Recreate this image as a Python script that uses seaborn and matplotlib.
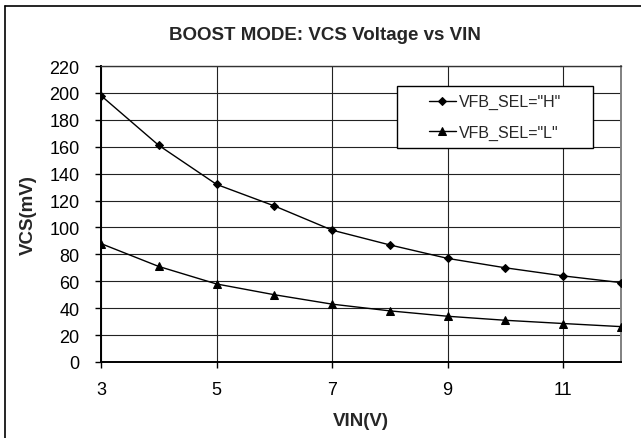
import numpy as np
import pandas as pd
import matplotlib
matplotlib.use("Agg")
import matplotlib.pyplot as plt
from matplotlib.lines import Line2D
from matplotlib.patches import Rectangle
import seaborn as sns

# values
vin = [3, 4, 5, 6, 7, 8, 9, 10, 11, 12]
vcs_h = [198, 161, 132, 116, 98, 87, 77, 70, 64, 59]
vcs_l = [88, 71, 58, 50, 43, 38, 34, 31, 28.6, 26.3]
label_h = 'VFB_SEL="H"'
label_l = 'VFB_SEL="L"'
x_ticks = [3, 5, 7, 9, 11]
y_ticks = list(range(0, 221, 20))

sns.set_style("white")
plt.rcParams["font.family"] = ["Liberation Sans", "DejaVu Sans"]

fig = plt.figure(figsize=(6.41, 4.39), dpi=100)
ax = fig.add_axes([101 / 641, 1 - 363 / 439, 520 / 641, 296 / 439])

sns.lineplot(x=vin, y=vcs_h, ax=ax, color="black", lw=1.0, marker="D",
             markersize=4.3, markeredgecolor="black", label=label_h, zorder=3)
sns.lineplot(x=vin, y=vcs_l, ax=ax, color="black", lw=1.0, marker="^",
             markersize=5.8, markeredgecolor="black", label=label_l, zorder=3)

ax.set_xlim(3, 12)
ax.set_ylim(0, 220)
ax.set_xticks(x_ticks)
ax.set_yticks(y_ticks)
ax.grid(True, color="#222222", lw=0.8)
ax.set_axisbelow(True)

for side in ["left", "bottom"]:
    ax.spines[side].set_color("black")
    ax.spines[side].set_linewidth(1.4)
ax.spines["top"].set_color("#333333")
ax.spines["top"].set_linewidth(1.0)
ax.spines["right"].set_color("#808080")
ax.spines["right"].set_linewidth(1.4)

ax.tick_params(axis="both", direction="out", length=4.5, width=1.0,
               color="black", labelsize=13, labelcolor="black")
ax.tick_params(axis="x", pad=9.5, bottom=True)
ax.tick_params(axis="y", pad=11, left=True)

ax.set_xlabel("VIN(V)", fontsize=13.5, fontweight="bold", labelpad=10)
ax.set_ylabel("VCS(mV)", fontsize=13.5, fontweight="bold", labelpad=9)

# legend box drawn as a plain rectangle, entries centered in it
box_x0, box_y0 = (397 - 101) / 520, (363 - 149) / 296
box_w, box_h = (593 - 397) / 520, (149 - 87) / 296
ax.add_patch(Rectangle((box_x0, box_y0), box_w, box_h, transform=ax.transAxes,
                       facecolor="white", edgecolor="black", lw=1.0, zorder=4.5))
ax.legend(loc="center", bbox_to_anchor=(box_x0 + box_w / 2, box_y0 + box_h / 2),
          frameon=False, fontsize=11.5, handlelength=1.7, handletextpad=0.2,
          labelspacing=0.95, borderaxespad=0)

fig.suptitle("BOOST MODE: VCS Voltage vs VIN", x=325 / 641, y=1 - 35 / 439,
             va="center", fontsize=13.5, fontweight="bold")

# chart-area frame (left and top edges visible in the crop)
fig.add_artist(Line2D([4.5 / 641, 4.5 / 641], [0, 1 - 7 / 439],
                      transform=fig.transFigure, color="black", lw=1.2))
fig.add_artist(Line2D([4.5 / 641, 1], [1 - 7 / 439, 1 - 7 / 439],
                      transform=fig.transFigure, color="black", lw=1.2))

fig.savefig("out.png", dpi=100)
